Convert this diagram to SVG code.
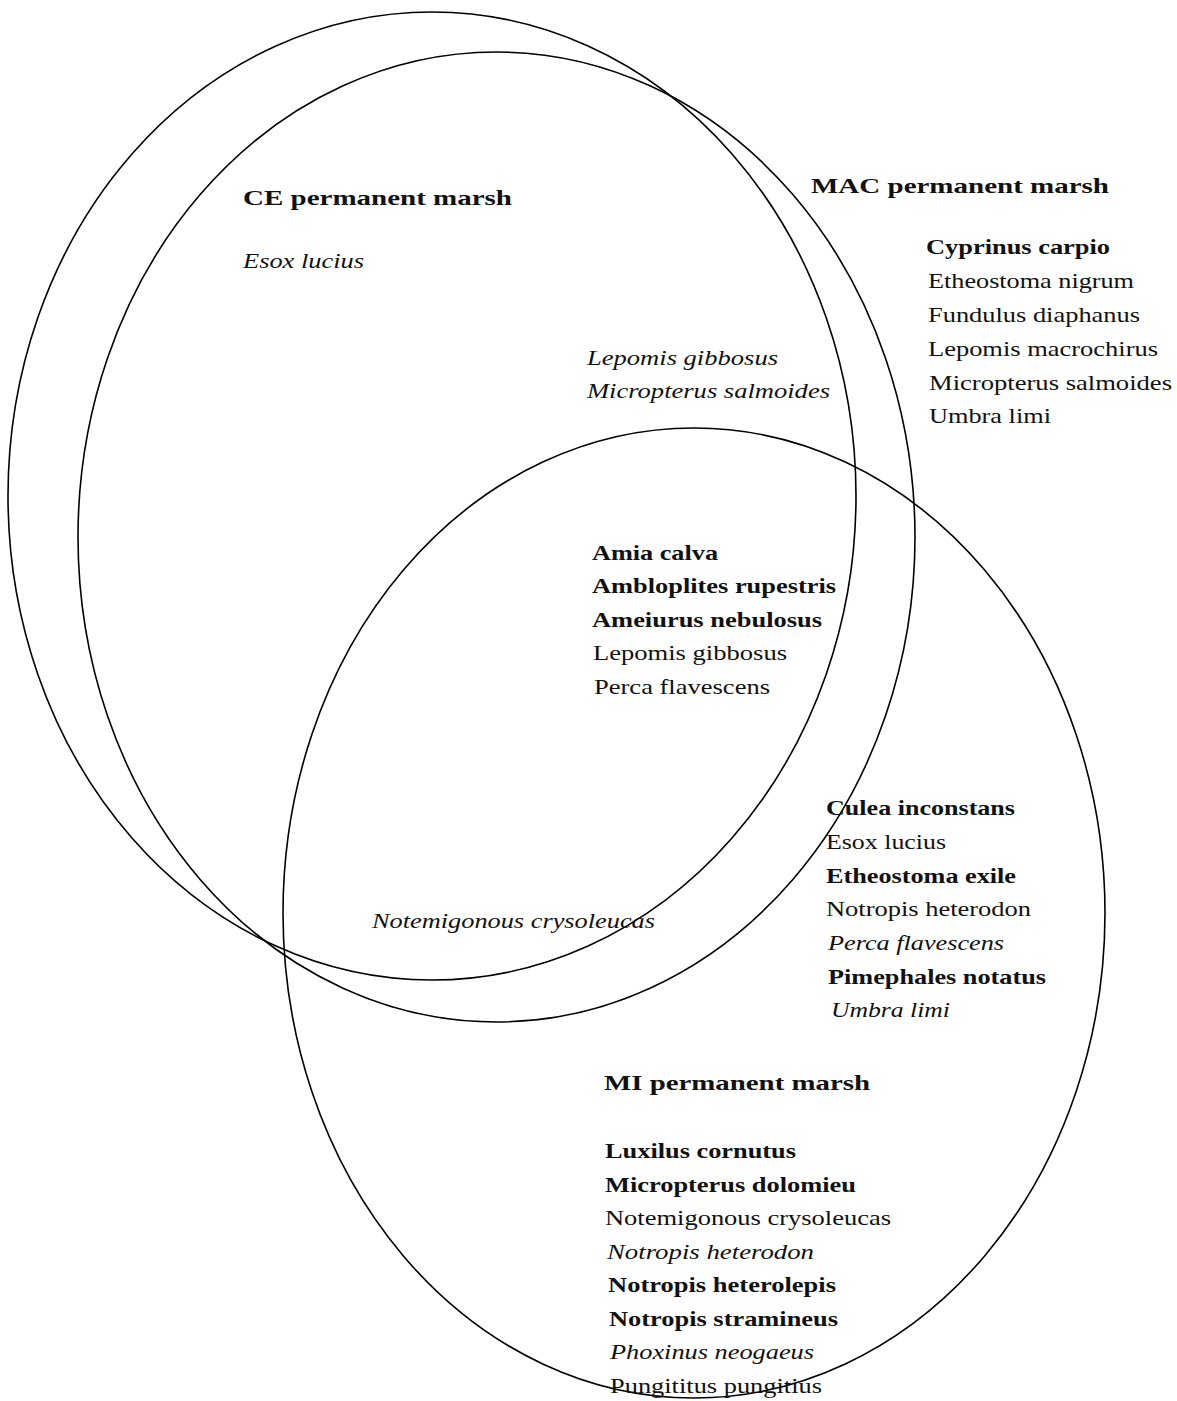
<svg xmlns="http://www.w3.org/2000/svg" width="1177" height="1401" viewBox="0 0 1177 1401">
<style>
.set{fill:none;stroke:#000;stroke-width:1.6}
text{font-family:"Liberation Serif","Times New Roman",serif;font-size:21px;fill:#111}
.t{font-weight:bold;font-size:22px}
.b{font-weight:bold}
.i{font-style:italic}
</style>
<rect width="1177" height="1401" fill="#fff"/>
<g id="ce">
<ellipse class="set" cx="432" cy="496" rx="424" ry="484"/>
<text class="t" x="243" y="205" textLength="269" lengthAdjust="spacingAndGlyphs">CE permanent marsh</text>
</g>
<g id="mac">
<ellipse class="set" cx="496.5" cy="537" rx="418.5" ry="485"/>
<text class="t" x="811" y="193" textLength="298" lengthAdjust="spacingAndGlyphs">MAC permanent marsh</text>
</g>
<g id="mi">
<ellipse class="set" cx="694" cy="913" rx="411" ry="485"/>
<text class="t" x="604" y="1090" textLength="266" lengthAdjust="spacingAndGlyphs">MI permanent marsh</text>
</g>
<g id="ce-only">
<text class="i" x="243" y="268" textLength="121" lengthAdjust="spacingAndGlyphs">Esox lucius</text>
</g>
<g id="ce-mac">
<text class="i" x="587" y="365" textLength="191" lengthAdjust="spacingAndGlyphs">Lepomis gibbosus</text>
<text class="i" x="587" y="398" textLength="243" lengthAdjust="spacingAndGlyphs">Micropterus salmoides</text>
</g>
<g id="mac-only">
<text class="b" x="926" y="254" textLength="184" lengthAdjust="spacingAndGlyphs">Cyprinus carpio</text>
<text x="928" y="288" textLength="206" lengthAdjust="spacingAndGlyphs">Etheostoma nigrum</text>
<text x="928" y="322" textLength="212" lengthAdjust="spacingAndGlyphs">Fundulus diaphanus</text>
<text x="928" y="356" textLength="230" lengthAdjust="spacingAndGlyphs">Lepomis macrochirus</text>
<text x="929" y="390" textLength="243" lengthAdjust="spacingAndGlyphs">Micropterus salmoides</text>
<text x="929" y="423" textLength="122" lengthAdjust="spacingAndGlyphs">Umbra limi</text>
</g>
<g id="all-three">
<text class="b" x="592" y="560" textLength="126" lengthAdjust="spacingAndGlyphs">Amia calva</text>
<text class="b" x="592" y="593" textLength="244" lengthAdjust="spacingAndGlyphs">Ambloplites rupestris</text>
<text class="b" x="592" y="627" textLength="230" lengthAdjust="spacingAndGlyphs">Ameiurus nebulosus</text>
<text x="593" y="660" textLength="194" lengthAdjust="spacingAndGlyphs">Lepomis gibbosus</text>
<text x="594" y="694" textLength="176" lengthAdjust="spacingAndGlyphs">Perca flavescens</text>
</g>
<g id="ce-mi">
<text class="i" x="372" y="928" textLength="283" lengthAdjust="spacingAndGlyphs">Notemigonous crysoleucas</text>
</g>
<g id="mac-mi">
<text class="b" x="826" y="815" textLength="189" lengthAdjust="spacingAndGlyphs">Culea inconstans</text>
<text x="826" y="849" textLength="120" lengthAdjust="spacingAndGlyphs">Esox lucius</text>
<text class="b" x="826" y="883" textLength="190" lengthAdjust="spacingAndGlyphs">Etheostoma exile</text>
<text x="826" y="916" textLength="205" lengthAdjust="spacingAndGlyphs">Notropis heterodon</text>
<text class="i" x="828" y="950" textLength="176" lengthAdjust="spacingAndGlyphs">Perca flavescens</text>
<text class="b" x="828" y="984" textLength="218" lengthAdjust="spacingAndGlyphs">Pimephales notatus</text>
<text class="i" x="831" y="1017" textLength="119" lengthAdjust="spacingAndGlyphs">Umbra limi</text>
</g>
<g id="mi-only">
<text class="b" x="605" y="1158" textLength="191" lengthAdjust="spacingAndGlyphs">Luxilus cornutus</text>
<text class="b" x="605" y="1192" textLength="251" lengthAdjust="spacingAndGlyphs">Micropterus dolomieu</text>
<text x="605" y="1225" textLength="286" lengthAdjust="spacingAndGlyphs">Notemigonous crysoleucas</text>
<text class="i" x="607" y="1259" textLength="207" lengthAdjust="spacingAndGlyphs">Notropis heterodon</text>
<text class="b" x="608" y="1292" textLength="228" lengthAdjust="spacingAndGlyphs">Notropis heterolepis</text>
<text class="b" x="609" y="1326" textLength="229" lengthAdjust="spacingAndGlyphs">Notropis stramineus</text>
<text class="i" x="610" y="1359" textLength="204" lengthAdjust="spacingAndGlyphs">Phoxinus neogaeus</text>
<text x="610" y="1393" textLength="212" lengthAdjust="spacingAndGlyphs">Pungititus pungitius</text>
</g>
</svg>
